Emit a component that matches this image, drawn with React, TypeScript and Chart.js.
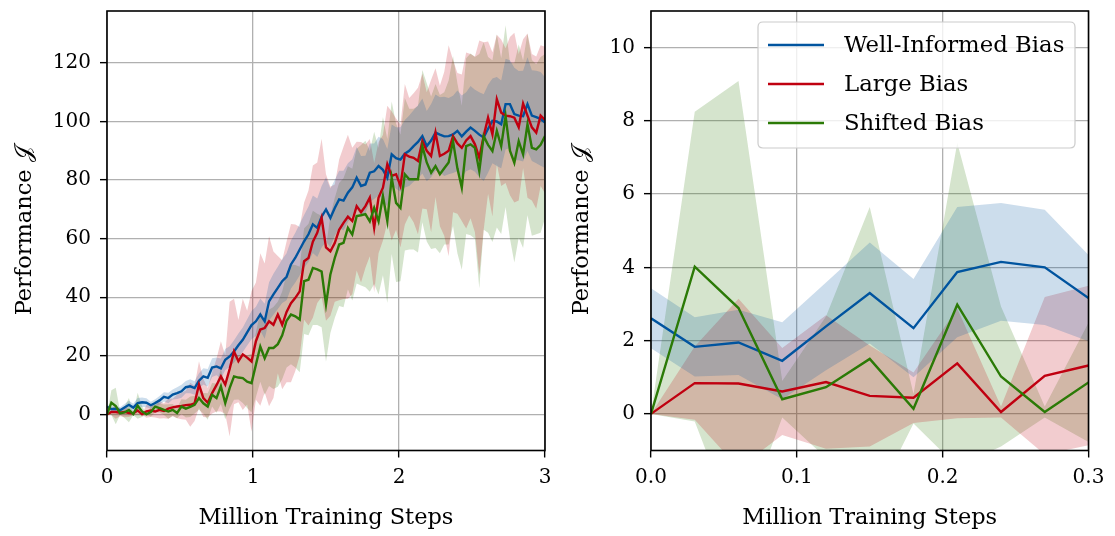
import React, { useEffect, useRef } from "react";
import { Chart, registerables } from "chart.js";

Chart.register(...registerables);

// ---------------- data ----------------
const X_STEPS = [
  0, 0.03, 0.06, 0.09, 0.12, 0.15, 0.18, 0.21, 0.24, 0.27,
  0.3, 0.33, 0.36, 0.39, 0.42, 0.45, 0.48, 0.51, 0.54, 0.57,
  0.6, 0.63, 0.66, 0.69, 0.72, 0.75, 0.78, 0.81, 0.84, 0.87,
  0.9, 0.93, 0.96, 0.99, 1.02, 1.05, 1.08, 1.11, 1.14, 1.17,
  1.2, 1.23, 1.26, 1.29, 1.32, 1.35, 1.38, 1.41, 1.44, 1.47,
  1.5, 1.53, 1.56, 1.59, 1.62, 1.65, 1.68, 1.71, 1.74, 1.77,
  1.8, 1.83, 1.86, 1.89, 1.92, 1.95, 1.98, 2.01, 2.04, 2.07,
  2.1, 2.13, 2.16, 2.19, 2.22, 2.25, 2.28, 2.31, 2.34, 2.37,
  2.4, 2.43, 2.46, 2.49, 2.52, 2.55, 2.58, 2.61, 2.64, 2.67,
  2.7, 2.73, 2.76, 2.79, 2.82, 2.85, 2.88, 2.91, 2.94, 2.97,
  3.0,
];

const WELL_MEAN = [
  2.61, 1.83, 1.95, 1.45, 2.39, 3.3, 2.34, 3.87, 4.15, 4.0,
  3.16, 3.9, 4.8, 6.0, 5.6, 6.8, 7.3, 7.9, 9.3, 9.6,
  9.0, 11.5, 13.0, 12.5, 16.0, 16.4, 15.7, 18.7, 19.8, 21.5,
  23.6, 25.5, 28.0, 30.5, 31.8, 34.1, 31.8, 38.6, 41.0, 43.2,
  45.5, 47.0, 51.2, 53.5, 56.3, 59.1, 61.5, 64.9, 63.7, 67.5,
  70.0, 67.1, 70.5, 73.4, 73.0, 75.7, 77.5, 80.8, 78.0, 78.5,
  82.5, 83.0, 84.8, 83.5, 80.8, 88.8, 87.5, 87.0, 89.0, 90.0,
  91.6, 93.0, 95.0, 91.6, 93.5, 96.2, 95.5, 94.9, 95.0, 95.6,
  96.8, 94.9, 96.5, 97.9, 96.8, 95.5, 94.5, 97.5, 100.2, 100.0,
  99.0, 105.9, 105.9, 102.5, 102.0, 101.8, 105.9, 102.0, 101.5, 100.9,
  99.6,
];
const WELL_STD = [
  0.82, 0.81, 0.89, 1.05, 1.2, 1.38, 1.34, 1.78, 1.61, 1.57,
  1.18, 1.3, 1.5, 1.6, 1.8, 1.7, 2.0, 2.2, 2.1, 2.4,
  2.3, 2.6, 2.8, 3.0, 3.2, 3.0, 3.4, 3.6, 3.5, 3.8,
  4.0, 4.2, 4.5, 4.8, 5.0, 5.5, 6.0, 6.5, 7.0, 7.2,
  7.5, 8.0, 8.2, 8.5, 8.8, 9.0, 9.5, 9.8, 10.0, 10.5,
  11.0, 10.0, 9.5, 9.8, 10.2, 10.0, 9.6, 10.5, 10.2, 9.8,
  10.0, 9.5, 10.0, 10.5, 9.8, 10.2, 10.5, 11.0, 11.5, 12.0,
  12.2, 12.5, 12.8, 12.0, 12.5, 13.0, 12.8, 13.5, 13.0, 13.2,
  13.8, 14.0, 13.5, 14.2, 14.0, 14.5, 14.8, 15.0, 14.5, 15.2,
  15.0, 15.5, 15.0, 15.8, 15.2, 15.5, 16.0, 15.5, 15.8, 16.0,
  15.5,
];

const LARGE_MEAN = [
  0, 0.84, 0.83, 0.61, 0.87, 0.49, 0.44, 1.38, 0.05, 1.04,
  1.32, 1.0, 1.6, 1.2, 2.0, 2.4, 2.7, 2.9, 3.2, 3.3,
  3.8, 10.2, 5.6, 4.0, 7.3, 10.0, 13.0, 10.2, 15.5, 21.5,
  18.2, 20.5, 19.4, 18.1, 25.0, 29.0, 29.5, 31.8, 30.6, 34.1,
  30.6, 35.0, 38.0, 39.8, 42.0, 52.3, 53.4, 59.0, 62.0, 67.1,
  57.0, 55.7, 58.5, 63.0, 65.4, 67.5, 66.0, 71.1, 69.0, 71.1,
  74.0, 63.7, 74.0, 77.4, 85.4, 81.4, 82.0, 78.0, 88.8, 88.0,
  87.6, 86.5, 93.3, 90.0, 88.2, 96.2, 88.2, 89.0, 90.0, 95.0,
  92.5, 91.0, 93.5, 95.0, 92.2, 87.6, 95.0, 101.3, 95.6, 107.6,
  103.0, 102.0, 101.8, 101.3, 98.0, 106.1, 102.0, 98.0, 96.2, 102.0,
  100.5,
];
const LARGE_STD = [
  0, 1.0, 2.31, 1.19, 1.82, 1.38, 0.69, 1.5, 0.15, 2.15,
  2.18, 2.0, 3.0, 2.5, 3.5, 3.0, 4.0, 4.5, 5.0, 7.5,
  6.0, 8.0, 6.5, 5.0, 7.0, 9.0, 12.0, 10.0, 23.0, 18.0,
  14.0, 19.0, 16.0, 24.0, 20.0, 26.0, 22.0, 29.0, 25.0, 20.0,
  22.0, 24.0, 27.0, 25.0, 22.0, 20.0, 23.0, 26.0, 24.0, 27.0,
  25.0, 22.0, 20.0, 24.0, 26.0, 28.0, 25.0, 22.0, 24.0, 21.0,
  20.0, 22.0, 19.0, 18.0, 20.0, 22.0, 19.0, 21.0, 24.0, 20.0,
  22.0, 25.0, 23.0, 20.0, 26.0, 22.0, 24.0, 28.0, 36.0, 26.0,
  24.0, 25.0, 30.0, 28.0, 30.0, 40.0, 32.0, 26.0, 28.0, 22.0,
  25.0, 23.0, 27.0, 29.0, 25.0, 22.0, 28.0, 25.0, 26.0, 24.0,
  25.0,
];

const SHIFTED_MEAN = [
  0, 4.02, 2.89, 0.4, 0.73, 1.5, 0.14, 2.98, 1.02, 0.05,
  0.86, 2.7, 2.2, 1.6, 1.0, 1.6, 0.5, 2.7, 2.0, 2.6,
  3.3, 5.6, 3.8, 2.7, 6.7, 5.6, 9.6, 3.9, 9.0, 13.0,
  12.6, 12.4, 11.2, 10.7, 17.0, 23.2, 19.2, 22.7, 22.7, 24.0,
  27.0, 32.0, 34.1, 33.5, 32.4, 45.5, 46.0, 50.0, 49.5, 48.8,
  37.5, 47.8, 53.4, 58.0, 58.6, 63.7, 61.4, 67.7, 68.0, 68.4,
  65.9, 70.5, 65.9, 74.5, 66.0, 80.8, 72.2, 70.5, 82.0, 80.3,
  80.3, 80.3, 91.6, 86.0, 82.5, 84.8, 82.0, 84.0, 86.0, 93.3,
  84.0, 77.4, 91.6, 92.2, 91.0, 83.0, 95.0, 92.0, 89.9, 96.8,
  91.6, 101.8, 90.0, 85.9, 93.3, 88.8, 99.0, 91.0, 90.5, 92.0,
  95.0,
];
const SHIFTED_STD = [
  0, 4.23, 6.2, 0.5, 1.93, 4.15, 0.4, 4.42, 1.91, 0.15,
  1.63, 2.0, 1.5, 1.8, 2.5, 2.0, 1.8, 2.5, 3.0, 3.5,
  3.0, 4.0, 3.5, 4.5, 4.0, 5.0, 6.0, 5.5, 7.0, 8.0,
  7.5, 8.5, 9.0, 10.0, 11.0, 12.0, 12.5, 13.0, 14.0, 14.5,
  15.0, 16.0, 17.0, 17.5, 18.0, 18.0, 19.0, 19.5, 19.0, 19.0,
  19.5, 20.0, 20.5, 21.0, 22.0, 21.0, 22.5, 23.0, 24.0, 25.0,
  24.0, 26.0, 25.0, 27.0, 28.0, 26.0, 27.0, 25.0, 26.0, 24.0,
  24.0, 25.0, 26.0, 27.0, 26.0, 28.0, 27.0, 26.0, 28.0, 29.0,
  29.0, 28.0, 30.0, 31.0, 31.0, 40.0, 32.0, 30.0, 31.0, 33.0,
  30.0, 31.0, 30.0, 34.0, 33.0, 32.0, 31.0, 30.0, 29.0, 30.0,
  28.0,
];

const SERIES_LABELS = ["Well-Informed Bias", "Large Bias", "Shifted Bias"];
const LEFT_X_TICKS = [0, 1, 2, 3];
const LEFT_Y_TICKS = [0, 20, 40, 60, 80, 100, 120];
const RIGHT_X_TICKS = [0, 0.1, 0.2, 0.3];
const RIGHT_Y_TICKS = [0, 2, 4, 6, 8, 10];
const ZOOM_POINTS = 11; // first 11 evaluations (0 .. 0.3 M steps)

// ---------------- style ----------------
const W = 1115;
const H = 536;
const FONT = "'DejaVu Serif', 'Liberation Serif', serif";
const COLORS = ["#00549f", "#c00010", "#2b7a06"];
const FILLS = ["rgba(0,84,159,0.2)", "rgba(192,0,16,0.2)", "rgba(43,122,6,0.2)"];
const GRID = "#b0b0b0";

const framePlugin = {
  id: "frame",
  afterDraw(chart: any) {
    const { ctx, chartArea: a } = chart;
    ctx.save();
    ctx.strokeStyle = "#000";
    ctx.lineWidth = 1.6;
    ctx.strokeRect(a.left, a.top, a.right - a.left, a.bottom - a.top);
    ctx.restore();
  },
};

const legendPlugin = {
  id: "boxLegend",
  afterDraw(chart: any) {
    const { ctx } = chart;
    const x0 = 758, y0 = 22, x1 = 1075, y1 = 148, r = 5;
    ctx.save();
    ctx.beginPath();
    ctx.moveTo(x0 + r, y0);
    ctx.lineTo(x1 - r, y0);
    ctx.quadraticCurveTo(x1, y0, x1, y0 + r);
    ctx.lineTo(x1, y1 - r);
    ctx.quadraticCurveTo(x1, y1, x1 - r, y1);
    ctx.lineTo(x0 + r, y1);
    ctx.quadraticCurveTo(x0, y1, x0, y1 - r);
    ctx.lineTo(x0, y0 + r);
    ctx.quadraticCurveTo(x0, y0, x0 + r, y0);
    ctx.closePath();
    ctx.fillStyle = "rgba(255,255,255,0.8)";
    ctx.fill();
    ctx.strokeStyle = "#cccccc";
    ctx.lineWidth = 1.2;
    ctx.stroke();
    const rows = [45, 84, 123];
    SERIES_LABELS.forEach((lab, i) => {
      ctx.strokeStyle = COLORS[i];
      ctx.lineWidth = 2.4;
      ctx.beginPath();
      ctx.moveTo(768, rows[i]);
      ctx.lineTo(824, rows[i]);
      ctx.stroke();
      ctx.fillStyle = "#000";
      ctx.font = `22.8px ${FONT}`;
      ctx.textBaseline = "middle";
      ctx.textAlign = "left";
      ctx.fillText(lab, 844, rows[i] + 1);
    });
    ctx.restore();
  },
};

function buildDatasets(n: number) {
  const means = [WELL_MEAN, LARGE_MEAN, SHIFTED_MEAN];
  const stds = [WELL_STD, LARGE_STD, SHIFTED_STD];
  const xs = X_STEPS.slice(0, n);
  const bands: any[] = [];
  const lines: any[] = [];
  means.forEach((m, s) => {
    const up = xs.map((x, i) => ({ x, y: m[i] + stds[s][i] }));
    const lo = xs.map((x, i) => ({ x, y: m[i] - stds[s][i] }));
    bands.push({
      data: up, borderWidth: 0, borderColor: "rgba(0,0,0,0)", pointRadius: 0,
      fill: false, order: 20 + s,
    });
    bands.push({
      data: lo, borderWidth: 0, borderColor: "rgba(0,0,0,0)", pointRadius: 0,
      backgroundColor: FILLS[s], fill: "-1", order: 20 + s,
    });
  });
  means.forEach((m, s) => {
    lines.push({
      label: SERIES_LABELS[s],
      data: xs.map((x, i) => ({ x, y: m[i] })),
      borderColor: COLORS[s], borderWidth: 2.4, pointRadius: 0, fill: false,
      tension: 0, order: 3 - s,
    });
  });
  return [...bands, ...lines];
}

function axisCommon(ticks: number[], fmt: (v: number) => string) {
  return {
    type: "linear",
    afterBuildTicks: (sc: any) => {
      sc.ticks = ticks.map((v) => ({ value: v }));
    },
    ticks: {
      callback: (v: any) => fmt(Number(v)),
      font: { family: FONT, size: 20 },
      color: "#000",
      autoSkip: false,
      maxRotation: 0,
    },
    grid: { color: GRID, lineWidth: 1.3, tickColor: "#000", tickLength: 7, tickWidth: 1.4 },
    border: { display: false },
  };
}

function makeConfig(side: "left" | "right") {
  const isLeft = side === "left";
  const padLeft = isLeft ? 0 : 557;
  const plotLeft = isLeft ? 107 : 651;
  const plotRight = isLeft ? 545 : 1088.5;
  const xAxis: any = axisCommon(
    isLeft ? LEFT_X_TICKS : RIGHT_X_TICKS,
    isLeft ? (v) => String(v) : (v) => v.toFixed(1)
  );
  xAxis.min = 0;
  xAxis.max = isLeft ? 3 : 0.3;
  xAxis.ticks.padding = 8;
  xAxis.afterFit = (sc: any) => {
    sc.height = H - 450.5;
    sc.paddingLeft = 0;
    sc.paddingRight = 0;
  };
  xAxis.title = {
    display: true, text: "Million Training Steps", color: "#000",
    font: { family: FONT, size: 22.5 }, padding: { top: 0, bottom: 4 },
  };
  const yAxis: any = axisCommon(
    isLeft ? LEFT_Y_TICKS : RIGHT_Y_TICKS,
    (v) => String(v)
  );
  yAxis.min = isLeft ? -12.3 : -1;
  yAxis.max = isLeft ? 137.7 : 11;
  yAxis.ticks.padding = 9;
  yAxis.afterFit = (sc: any) => {
    sc.width = plotLeft - padLeft;
    sc.paddingTop = 0;
    sc.paddingBottom = 0;
  };
  yAxis.title = {
    display: true, text: "Performance 𝒥", color: "#000",
    font: { family: FONT, size: 22.5 }, padding: { top: 12, bottom: 0 },
  };
  return {
    type: "line",
    data: { datasets: buildDatasets(isLeft ? X_STEPS.length : ZOOM_POINTS) },
    options: {
      responsive: false,
      animation: false,
      devicePixelRatio: 1,
      layout: { padding: { left: padLeft, right: W - plotRight, top: 11, bottom: 0 } },
      scales: { x: xAxis, y: yAxis },
      plugins: {
        legend: { display: false },
        tooltip: { enabled: false },
        filler: { drawTime: "beforeDatasetsDraw" },
      },
    },
    plugins: isLeft ? [framePlugin] : [framePlugin, legendPlugin],
  };
}

function ChartCanvas({ side }: { side: "left" | "right" }) {
  const ref = useRef<HTMLCanvasElement | null>(null);
  useEffect(() => {
    if (!ref.current) return;
    const chart = new Chart(ref.current, makeConfig(side) as any);
    return () => chart.destroy();
  }, [side]);
  return (
    <canvas
      ref={ref}
      width={W}
      height={H}
      style={{ position: "absolute", left: 0, top: 0, width: W, height: H }}
    />
  );
}

export default function App() {
  return (
    <div style={{ position: "fixed", left: 0, top: 0, width: W, height: H, background: "#fff" }}>
      <ChartCanvas side="left" />
      <ChartCanvas side="right" />
    </div>
  );
}
